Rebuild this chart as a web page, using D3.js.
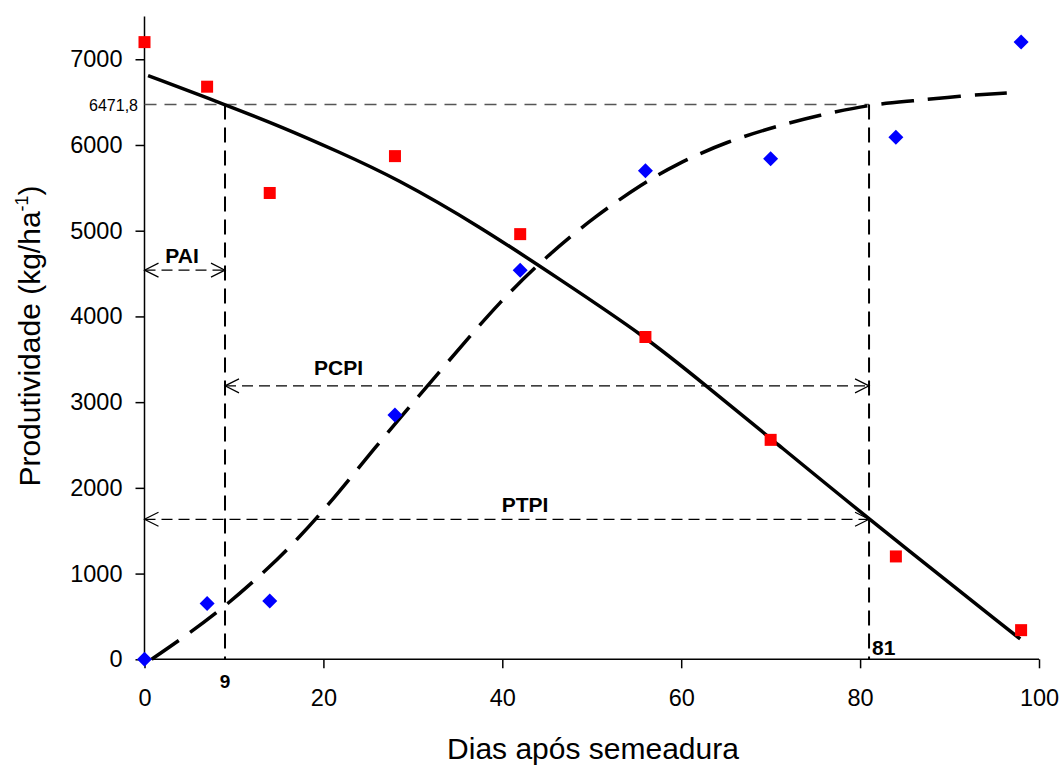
<!DOCTYPE html>
<html>
<head>
<meta charset="utf-8">
<script src="https://cdn.jsdelivr.net/npm/d3@7"></script>
<style>
  html, body { margin: 0; padding: 0; background: #fff; }
  svg { display: block; font-family: Arial, "Liberation Sans", sans-serif; }
</style>
</head>
<body>
<svg id="chart" width="1064" height="767"></svg>
<script>
// Sampling days (days after sowing)
const days = [0, 7, 14, 28, 42, 56, 70, 84, 98];
// Yield with weeds present from sowing (red squares)
const yieldWeedyUntil = [7200, 6680, 5440, 5870, 4960, 3760, 2560, 1200, 340];
// Yield with weeds controlled from sowing (blue diamonds)
const yieldWeedFreeUntil = [0, 650, 680, 2850, 4540, 5700, 5840, 6090, 7200];

// Fitted decreasing curve (solid line), read at selected days
const fitDecDays = [0.4, 9, 15.5, 21.5, 28, 37.5, 46.5, 56, 62.5, 69.9, 81, 97.9];
const fitDecValues = [6810, 6471.8, 6205, 5930, 5620, 5050, 4427, 3765, 3215, 2585, 1633, 237];

// Fitted increasing curve (dashed line), read at selected days
const fitIncDays = [0.8, 4.7, 9, 13.9, 17, 20.4, 24.8, 28, 34, 39.9, 45, 50.4, 55.8, 59.3, 65, 71.6, 75.2, 81, 85.8, 91.2, 96.4];
const fitIncValues = [0, 280, 614, 1066, 1390, 1780, 2345, 2745, 3480, 4195, 4706, 5172, 5555, 5767, 6040, 6246, 6340, 6471.8, 6513, 6572, 6607];

// Period limits
const limitValue = 6471.8;
const limitDays = [9, 81];
const xTicks = [0, 20, 40, 60, 80, 100];
const yTicks = [0, 1000, 2000, 3000, 4000, 5000, 6000, 7000];

// Period arrows: label, start day, end day, level
const periodNames = ["PAI", "PCPI", "PTPI"];
const periodStart = [0, 9, 0];
const periodEnd = [9, 81, 81];
const periodLevel = [4540, 3190, 1633];

const svg = d3.select("#chart");
const x = d3.scaleLinear().domain([0, 100]).range([144.5, 1039]);
const y = d3.scaleLinear().domain([0, 7500]).range([659.3, 16.4]);

// Axes
const xAxis = d3.axisBottom(x).tickValues(xTicks).tickSize(9).tickPadding(21).tickFormat(d3.format("d"));
const yAxis = d3.axisLeft(y).tickValues(yTicks).tickSize(9).tickPadding(13).tickFormat(d3.format("d"));

const gx = svg.append("g").attr("transform", `translate(0,${y(0)})`).call(xAxis);
const gy = svg.append("g").attr("transform", `translate(${x(0)},0)`).call(yAxis);
[gx, gy].forEach(g => {
  g.select(".domain").attr("stroke", "#000").attr("stroke-width", 1.5);
  g.selectAll(".tick line").attr("stroke", "#000").attr("stroke-width", 1.5);
  g.selectAll(".tick text").attr("fill", "#000").style("font-size", "23.5px")
    .style("font-family", "Arial, 'Liberation Sans', sans-serif");
});
gy.select(".domain").attr("d", `M0,${y(0)}V${y(7500)}`);
gx.select(".domain").attr("d", `M${x(0)},0H${x(100)}`);

// Reference lines at the limit value
svg.append("line")
  .attr("x1", x(0)).attr("x2", x(81))
  .attr("y1", y(limitValue)).attr("y2", y(limitValue))
  .attr("stroke", "#555").attr("stroke-width", 1.5).attr("stroke-dasharray", "12,8");

limitDays.forEach(d => {
  svg.append("line")
    .attr("x1", x(d)).attr("x2", x(d))
    .attr("y1", y(limitValue)).attr("y2", y(0))
    .attr("stroke", "#000").attr("stroke-width", 2).attr("stroke-dasharray", "15,8");
});

// Double-headed dashed arrows for the periods
function arrowHead(xTip, yTip, dir) {
  const len = 14, half = 7;
  svg.append("path")
    .attr("d", `M${xTip + dir * len},${yTip - half}L${xTip},${yTip}L${xTip + dir * len},${yTip + half}`)
    .attr("fill", "none").attr("stroke", "#000").attr("stroke-width", 1.2);
}
periodNames.forEach((name, i) => {
  const x1 = x(periodStart[i]), x2 = x(periodEnd[i]), yy = y(periodLevel[i]);
  svg.append("line")
    .attr("x1", x1).attr("x2", x2).attr("y1", yy).attr("y2", yy)
    .attr("stroke", "#000").attr("stroke-width", 1.2).attr("stroke-dasharray", "11,6");
  arrowHead(x1, yy, 1);
  arrowHead(x2, yy, -1);
});

// Period labels
const labelX = [182, 338.5, 525];
const labelDy = [-7, -11, -7];
periodNames.forEach((name, i) => {
  svg.append("text")
    .attr("x", labelX[i]).attr("y", y(periodLevel[i]) + labelDy[i])
    .attr("text-anchor", "middle")
    .style("font-size", "21px").style("font-weight", "bold")
    .text(name);
});

// Fitted curves
const line = d3.line().x(d => x(d[0])).y(d => y(d[1])).curve(d3.curveBasis);
svg.append("path")
  .datum(d3.zip(fitDecDays, fitDecValues))
  .attr("d", line).attr("fill", "none")
  .attr("stroke", "#000").attr("stroke-width", 3.5);
svg.append("path")
  .datum(d3.zip(fitIncDays, fitIncValues))
  .attr("d", line).attr("fill", "none")
  .attr("stroke", "#000").attr("stroke-width", 3.5).attr("stroke-dasharray", "33,14");

// Observed points
svg.append("g").selectAll("rect")
  .data(d3.zip(days, yieldWeedyUntil))
  .join("rect")
  .attr("x", d => x(d[0]) - 6).attr("y", d => y(d[1]) - 6)
  .attr("width", 12).attr("height", 12)
  .attr("fill", "#ff0000");

svg.append("g").selectAll("path")
  .data(d3.zip(days, yieldWeedFreeUntil))
  .join("path")
  .attr("d", d => {
    const cx = x(d[0]), cy = y(d[1]), r = 7.5;
    return `M${cx},${cy - r}L${cx + r},${cy}L${cx},${cy + r}L${cx - r},${cy}Z`;
  })
  .attr("fill", "#0000ff");

// Limit value and day annotations
svg.append("text")
  .attr("x", 138).attr("y", y(limitValue) + 6)
  .attr("text-anchor", "end").style("font-size", "16px")
  .text("6471,8");
svg.append("text")
  .attr("x", x(9)).attr("y", 688)
  .attr("text-anchor", "middle").style("font-size", "19px").style("font-weight", "bold")
  .text("9");
svg.append("text")
  .attr("x", 872).attr("y", 655)
  .style("font-size", "21px").style("font-weight", "bold")
  .text("81");

// Axis titles
svg.append("text")
  .attr("x", 593).attr("y", 759)
  .attr("text-anchor", "middle").style("font-size", "30px")
  .text("Dias após semeadura");

const yTitle = svg.append("text")
  .attr("transform", "translate(40,336) rotate(-90)")
  .attr("text-anchor", "middle").style("font-size", "30px");
yTitle.append("tspan").text("Produtividade (kg/ha");
yTitle.append("tspan").attr("dy", -12).style("font-size", "18px").text("-1");
yTitle.append("tspan").attr("dy", 12).text(")");
</script>
</body>
</html>
